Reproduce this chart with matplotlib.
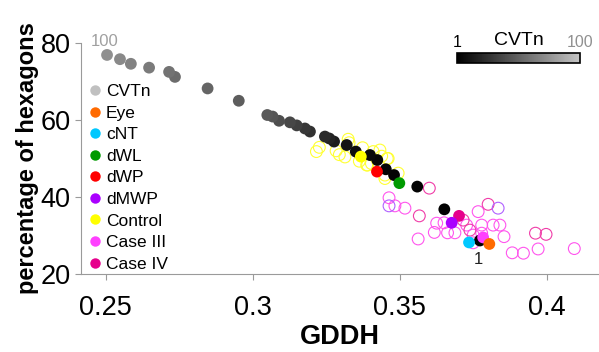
import matplotlib
matplotlib.use('Agg')
import matplotlib.pyplot as plt
import matplotlib.colors as mcolors
import numpy as np

plt.rcParams['font.family'] = 'Liberation Sans'

# CVTn iterations (1 = final, 100 = start)
cvtn_iter = [1, 2, 3, 4, 5, 6, 8, 10, 15, 20, 25, 30, 35, 40, 45, 50, 55, 60, 62,
             65, 70, 75, 80, 85, 90, 95, 100]
cvtn_x = [0.3772, 0.3651, 0.3559, 0.3480, 0.3452, 0.3423, 0.3398, 0.3350, 0.3319,
          0.3276, 0.3260, 0.3245, 0.3194, 0.3177, 0.3149, 0.3126, 0.3089, 0.3067,
          0.3049, 0.2952, 0.2846, 0.2735, 0.2715, 0.2647, 0.2585, 0.2548, 0.2504]
cvtn_y = [28.7, 36.8, 42.7, 45.7, 47.2, 49.6, 50.9, 51.8, 53.5, 54.4, 55.2, 55.7,
          57.0, 57.8, 58.6, 59.4, 59.8, 60.9, 61.3, 65.0, 68.2, 71.2, 72.5, 73.6,
          74.6, 75.8, 76.9]

# Control samples (hollow yellow)
ctrl_x = [0.3216, 0.3226, 0.3283, 0.3294, 0.3313, 0.3324, 0.3327, 0.3373, 0.3362,
          0.3390, 0.3409, 0.3403, 0.3432, 0.3438, 0.3457, 0.3449, 0.3494, 0.3387,
          0.3460, 0.3449]
ctrl_y = [51.8, 52.9, 52.0, 51.0, 50.4, 55.0, 54.1, 52.8, 49.3, 48.3, 51.8, 48.7,
          52.2, 50.6, 50.0, 45.7, 46.2, 48.3, 50.0, 44.8]

# Case III samples (hollow light magenta)
c3_x = [0.3463, 0.3483, 0.3517, 0.3562, 0.3625, 0.3650, 0.3617, 0.3662, 0.3687,
        0.3727, 0.3749, 0.3766, 0.3778, 0.3817, 0.3840, 0.3778, 0.3854, 0.3882,
        0.3920, 0.3970, 0.4093, 0.3749]
c3_y = [39.8, 37.7, 37.1, 29.1, 33.2, 33.3, 30.8, 30.7, 30.7, 32.7, 30.1, 36.2,
        32.7, 32.7, 32.7, 30.6, 29.7, 25.5, 25.4, 26.5, 26.6, 28.1]

# Case IV samples (hollow deep pink)
c4_x = [0.3600, 0.3566, 0.3715, 0.3738, 0.3800, 0.3961, 0.3997]
c4_y = [42.3, 35.1, 34.0, 31.4, 38.1, 30.6, 30.3]

# dMWP samples (hollow purple)
mwp_x = [0.3463, 0.3834]
mwp_y = [37.7, 37.1]

# single filled methods
names = ['Control', 'dWP', 'dWL', 'Case IV', 'dMWP', 'cNT', 'Case III', 'Eye']
pts_x = [0.3367, 0.3422, 0.3498, 0.3701, 0.3676, 0.3735, 0.3783, 0.3804]
pts_y = [50.5, 46.6, 43.6, 35.1, 33.3, 28.2, 29.5, 27.8]

colors = {'CVTn': '#c0c0c0', 'Eye': '#ff6a00', 'cNT': '#00c8ff', 'dWL': '#009a00',
          'dWP': '#ff0000', 'dMWP': '#aa00ff', 'Control': '#ffff00',
          'Case III': '#ff40ff', 'Case IV': '#e6008c'}
legend_order = ['CVTn', 'Eye', 'cNT', 'dWL', 'dWP', 'dMWP', 'Control', 'Case III', 'Case IV']

fig = plt.figure(figsize=(5.99, 3.52), dpi=100)
ax = fig.add_axes([0.135, 0.2216, 0.865, 0.6562])

ms = 72
ax.scatter(ctrl_x, ctrl_y, s=ms, facecolors='none', edgecolors='#ffff33', linewidths=0.8)
ax.scatter(c3_x, c3_y, s=ms, facecolors='none', edgecolors='#ff55ee', linewidths=0.8)
ax.scatter(c4_x, c4_y, s=ms, facecolors='none', edgecolors='#f03ca8', linewidths=0.8)
ax.scatter(mwp_x, mwp_y, s=ms, facecolors='none', edgecolors='#b060ff', linewidths=0.8)

# gray level of the CVTn points follows the iteration
pt_cmap = mcolors.LinearSegmentedColormap.from_list('pts', ['#000000', '#909090'])
ax.scatter(cvtn_x, cvtn_y, s=ms, c=cvtn_iter, cmap=pt_cmap, vmin=1, vmax=100,
           edgecolors='none')

for n, x, y in zip(names, pts_x, pts_y):
    ax.scatter(x, y, s=ms, color=colors[n], edgecolors='none', zorder=3)

ax.text(0.2497, 80.3, '100', color='#a0a0a0', fontsize=12, ha='center', va='center',
        clip_on=False)
ax.text(0.3766, 25.6, '1', color='#222222', fontsize=12, ha='center', va='top')

ax.set_xlim(0.2415, 0.4177)
ax.set_ylim(20, 80)
ax.set_xticks([0.25, 0.3, 0.35, 0.4])
ax.set_xticklabels(['0.25', '0.3', '0.35', '0.4'])
ax.set_yticks([20, 40, 60, 80])
for s in ['top', 'right']:
    ax.spines[s].set_visible(False)
for s in ['left', 'bottom']:
    ax.spines[s].set_color('#9a9a9a')
ax.tick_params(axis='both', colors='#9a9a9a', labelcolor='black', labelsize=19.5,
               direction='out', length=4, width=0.8)
ax.tick_params(axis='x', pad=11)
ax.set_xlabel('GDDH', fontsize=19.5, fontweight='bold', labelpad=2)
ax.set_ylabel('percentage of hexagons', fontsize=17, fontweight='bold', labelpad=1)

handles = [plt.Line2D([], [], marker='o', linestyle='none', markersize=7.5,
                      markerfacecolor=colors[k], markeredgecolor='none') for k in legend_order]
ax.legend(handles, legend_order, loc='upper left', bbox_to_anchor=(0.0, 0.853),
          frameon=False, fontsize=12.5, handletextpad=0.25, labelspacing=0.37,
          borderaxespad=0.0, handlelength=0.8)

# colorbar for the CVTn iteration
cax = fig.add_axes([0.763, 0.822, 0.205, 0.027])
bar_cmap = mcolors.LinearSegmentedColormap.from_list('bar', ['#000000', '#c4c4c4'])
sm = plt.cm.ScalarMappable(cmap=bar_cmap, norm=mcolors.Normalize(vmin=1, vmax=100))
cbar = fig.colorbar(sm, cax=cax, orientation='horizontal')
cbar.set_ticks([])
cbar.outline.set_linewidth(1.2)
fig.text(0.763, 0.858, '1', fontsize=11.5, ha='center', va='bottom')
fig.text(0.866, 0.862, 'CVTn', fontsize=14, ha='center', va='bottom')
fig.text(0.968, 0.858, '100', fontsize=11.5, color='#909090', ha='center', va='bottom')

plt.savefig('out.png', dpi=100)
